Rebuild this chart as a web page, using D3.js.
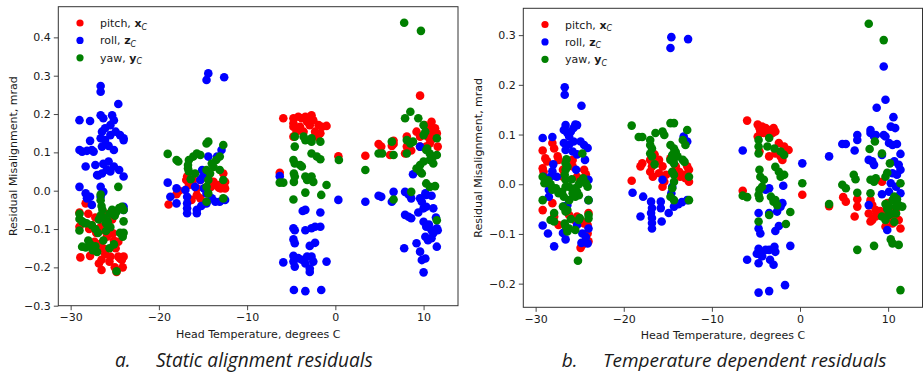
<!DOCTYPE html>
<html>
<head>
<meta charset="utf-8">
<script src="https://cdn.jsdelivr.net/npm/d3@7"></script>
<style>
  body { margin: 0; background: #fff; }
  text { font-family: "DejaVu Sans", sans-serif; fill: #1a1a1a; }
</style>
</head>
<body>
<svg id="chart" width="923" height="376"></svg>
<script>
// Tick values and labels
const xTicks = [-30, -20, -10, 0, 10];
const staticYTicks = [-0.3, -0.2, -0.1, 0.0, 0.1, 0.2, 0.3, 0.4];
const tempYTicks = [-0.2, -0.1, 0.0, 0.1, 0.2, 0.3];
const seriesNames = ["pitch, ", "roll, ", "yaw, "];
const seriesSymbols = ["x", "z", "y"];
const captions = [["a.", "Static alignment residuals"], ["b.", "Temperature dependent residuals"]];

// [head temperature (deg C), residual (mrad)]
const staticPitch = [
  [-29.0,-0.057],[-29.0,-0.094],[-28.9,-0.174],[-28.7,-0.085],[-28.3,-0.033],[-28.0,-0.06],[-27.8,-0.17],[-27.6,-0.09],
  [-27.3,-0.133],[-27.1,-0.11],[-26.8,-0.14],[-26.6,-0.095],[-26.5,-0.18],[-26.5,-0.207],[-26.3,-0.15],[-26.3,-0.103],
  [-26.1,-0.165],[-25.9,-0.12],[-25.6,-0.185],[-25.5,-0.172],[-25.2,-0.111],[-25.1,-0.13],[-25.0,-0.2],[-24.9,-0.15],
  [-24.8,-0.212],[-24.6,-0.172],[-24.4,-0.177],[-24.2,-0.181],[-24.1,-0.2],[-24.0,-0.172],[-26.0,-0.06],[-25.3,-0.075],
  [-27.2,-0.07],[-24.6,-0.133],[-27.9,-0.1],[-26.8,-0.19],
  [-18.9,-0.036],[-18.0,-0.009],[-17.7,0.0],[-16.9,0.028],[-16.8,0.037],[-16.6,0.015],[-16.1,0.028],[-15.7,0.006],
  [-15.7,-0.011],[-16.3,-0.024],[-15.3,-0.02],[-15.3,0.028],[-14.9,-0.033],[-14.4,0.032],[-13.8,0.023],[-13.8,0.015],
  [-13.2,0.015],[-13.2,0.008],[-12.7,0.045],[-12.5,0.023],[-12.5,0.006],[-13.0,0.006],[-14.1,0.01],
  [-5.9,0.189],[-6.3,0.047],[-4.75,0.189],[-4.75,0.176],[-4.75,0.167],[-4.2,0.193],[-3.8,0.189],[-3.4,0.193],
  [-3.2,0.18],[-2.7,0.197],[-2.5,0.184],[-2.9,0.171],[-1.9,0.171],[-1.5,0.167],[-1.0,0.169],[-2.3,0.154],
  [-1.7,0.150],[-4.0,0.167],[-4.75,0.141],[-3.6,0.154],[-4.4,0.154],[-2.0,0.14],[0.34,0.09],
  [3.4,0.091],[4.9,0.122],[5.2,0.115],[6.2,0.093],[6.6,0.122],[6.4,0.117],[6.6,0.13],[8.1,0.141],[8.1,0.115],
  [7.9,0.097],[8.6,0.105],[9.6,0.248],[9.6,0.115],[10.3,0.115],[10.9,0.18],[10.7,0.167],[11.3,0.163],[11.1,0.154],
  [11.5,0.150],[11.6,0.115],[10.7,0.123],[10.1,0.171],[9.6,0.141],[9.2,0.154],[10.5,0.14],[11.0,0.135]
];
const staticRoll = [
  [-26.6,0.273],[-26.6,0.258],[-24.6,0.226],[-29.0,0.184],[-27.8,0.182],[-26.6,0.197],[-26.3,0.189],[-25.3,0.197],
  [-25.1,0.184],[-25.5,0.171],[-26.1,0.163],[-26.45,0.154],[-24.9,0.154],[-24.4,0.145],[-24.0,0.137],[-26.6,0.137],
  [-26.1,0.132],[-25.5,0.145],[-27.8,0.130],[-29.0,0.106],[-28.7,0.102],[-28.15,0.104],[-27.6,0.106],[-27.4,0.102],
  [-26.45,0.115],[-25.7,0.117],[-25.1,0.106],[-24.0,0.132],[-28.3,0.063],[-27.2,0.067],[-25.7,0.076],[-25.1,0.063],
  [-24.5,0.054],[-27.0,0.041],[-26.45,0.045],[-25.5,0.050],[-24.0,0.037],[-29.0,0.010],[-28.3,-0.007],[-27.8,-0.016],
  [-28.15,-0.020],[-27.6,-0.037],[-26.6,0.010],[-26.3,-0.003],[-26.6,-0.016],[-24.0,-0.042],[-24.0,-0.050],
  [-26.9,0.04],[-26.3,0.07],[-25.9,0.055],
  [-19.0,0.021],[-18.0,0.006],[-18.7,-0.016],[-18.0,-0.033],[-17.0,0.002],[-16.8,-0.016],[-16.8,-0.033],[-16.8,-0.046],
  [-16.8,-0.059],[-15.7,-0.050],[-15.7,-0.059],[-15.9,0.010],[-15.3,0.028],[-14.9,0.006],[-14.6,-0.007],[-14.6,-0.033],
  [-13.6,-0.029],[-13.1,-0.029],[-12.5,-0.024],[-12.9,0.106],[-13.4,0.089],[-14.4,0.089],[-15.0,0.037],[-15.1,0.054],
  [-14.4,0.306],[-14.6,0.289],[-12.6,0.296],[-14.0,-0.02],[-15.2,-0.04],
  [-6.3,0.038],[-3.7,-0.053],[-3.4,-0.050],[-1.7,-0.057],[0.34,-0.024],[-4.75,-0.098],[-4.6,-0.103],[-3.4,-0.103],
  [-2.7,-0.098],[-2.3,-0.094],[-1.7,-0.094],[-4.75,-0.127],[-4.6,-0.137],[-2.9,-0.144],[-2.3,-0.136],[-5.9,-0.187],
  [-4.75,-0.170],[-4.75,-0.185],[-4.6,-0.198],[-4.2,-0.176],[-3.8,-0.180],[-3.4,-0.190],[-3.2,-0.172],[-2.7,-0.172],
  [-2.5,-0.185],[-2.9,-0.203],[-2.9,-0.212],[-1.0,-0.185],[-4.7,-0.259],[-3.4,-0.262],[-1.6,-0.259],
  [3.4,-0.029],[4.9,-0.013],[5.2,-0.016],[6.6,-0.003],[6.4,-0.029],[7.9,-0.003],[8.3,-0.010],[8.6,-0.020],
  [9.6,-0.020],[9.8,-0.029],[10.2,-0.007],[10.3,-0.011],[10.9,-0.013],[8.8,0.043],[9.6,0.115],[7.9,-0.063],
  [8.3,-0.068],[8.6,-0.072],[9.4,-0.057],[10.0,-0.046],[10.3,-0.042],[11.1,-0.046],[10.0,-0.081],[10.3,-0.094],
  [10.9,-0.103],[11.5,-0.098],[11.1,-0.111],[11.6,-0.103],[10.2,-0.120],[10.5,-0.129],[10.9,-0.124],[9.2,-0.137],
  [11.5,-0.146],[7.8,-0.150],[9.6,-0.159],[9.8,-0.181],[10.2,-0.177],[10.0,-0.213],[11.4,-0.07],[10.6,-0.088]
];
const staticYaw = [
  [-29.0,-0.06],[-29.0,-0.074],[-29.0,-0.104],[-28.7,-0.08],[-28.4,-0.085],[-28.2,-0.085],[-28.7,-0.146],[-28.3,-0.148],
  [-28.0,-0.13],[-27.8,-0.14],[-27.5,-0.155],[-27.2,-0.145],[-27.0,-0.16],[-26.6,-0.01],[-26.6,-0.025],[-26.5,-0.04],
  [-26.4,-0.05],[-26.6,-0.065],[-26.8,-0.075],[-26.3,-0.07],[-26.0,-0.085],[-25.8,-0.08],[-25.6,-0.06],[-25.3,-0.05],
  [-25.0,-0.065],[-24.8,-0.055],[-24.5,-0.045],[-24.2,-0.042],[-24.0,-0.05],[-24.0,-0.08],[-24.0,-0.11],[-24.1,-0.12],
  [-24.4,-0.11],[-25.5,-0.095],[-26.0,-0.105],[-26.3,-0.13],[-26.9,-0.11],[-27.2,-0.1],[-27.6,-0.09],[-24.6,0.01],
  [-25.1,-0.14],[-24.8,-0.21],[-25.6,-0.15],
  [-19.0,0.096],[-18.0,0.080],[-17.8,0.076],[-16.6,0.080],[-16.7,0.067],[-16.7,0.058],[-16.6,0.050],[-16.1,0.089],
  [-15.7,0.097],[-15.3,0.093],[-14.6,0.123],[-14.4,0.128],[-12.7,0.119],[-13.1,0.089],[-13.5,0.080],[-14.0,0.071],
  [-13.8,0.062],[-14.6,0.054],[-14.2,0.045],[-14.4,0.028],[-14.6,0.010],[-14.4,-0.007],[-14.6,-0.029],[-12.7,0.028],
  [-12.7,-0.020],[-13.1,0.054],[-15.9,0.045],[-16.4,0.03],
  [-6.3,0.021],[-5.9,0.021],[-4.6,0.141],[-4.6,0.115],[-3.6,0.141],[-3.4,0.132],[-2.7,0.137],[-2.7,0.128],
  [-1.7,0.128],[-4.75,0.080],[-4.6,0.071],[-4.0,0.067],[-3.8,0.063],[-4.7,0.045],[-4.6,0.037],[-4.7,0.023],
  [-3.4,0.037],[-3.2,0.028],[-2.7,0.037],[-2.5,0.023],[-2.7,0.097],[-2.1,0.089],[-1.7,0.082],[-3.4,-0.005],
  [-4.75,-0.023],[-1.6,-0.011],[-1.0,0.015],[0.4,0.080],
  [3.4,0.054],[4.9,0.097],[5.3,0.097],[6.4,0.128],[6.6,0.093],[6.6,-0.023],[7.9,0.189],[8.5,0.206],[9.4,0.189],
  [10.0,0.171],[10.2,0.154],[8.1,0.132],[8.5,0.123],[8.8,0.128],[8.1,0.097],[8.6,-0.003],[9.2,0.058],[9.6,0.067],
  [10.0,0.076],[9.6,0.050],[9.8,0.045],[10.3,0.106],[10.7,0.097],[11.1,0.089],[10.7,0.080],[11.1,0.071],[11.5,0.093],
  [11.5,0.137],[10.3,0.019],[10.7,0.010],[11.3,0.012],[11.5,-0.077],[7.8,0.438],[9.7,0.417],[10.0,0.145],[10.4,0.11]
];

const tempPitch = [
  [-29.2,0.068],[-28.1,0.083],[-27.9,0.072],[-28.9,0.052],[-28.7,0.046],[-27.5,0.056],[-27.4,0.049],[-29.2,0.032],
  [-29.1,0.025],[-29.2,-0.052],[-28.1,-0.038],[-26.9,0.029],[-26.9,0.015],[-25.8,0.049],[-25.8,0.036],[-25.3,0.015],
  [-24.5,0.029],[-25.3,-0.065],[-24.9,-0.072],[-24.5,-0.079],[-24.1,-0.082],[-24.1,-0.099],[-24.0,-0.115],[-24.7,-0.122],
  [-24.9,-0.128],[-26.2,-0.062],[-25.6,-0.072],[-27.9,-0.065],[-28.1,-0.072],[-27.4,-0.082],[-24.0,-0.058],[-24.3,0.02],
  [-26.4,-0.09],
  [-19.1,0.007],[-18.1,0.036],[-17.9,0.042],[-17.0,0.049],[-16.8,0.036],[-17.0,0.025],[-16.7,0.015],[-16.0,0.049],
  [-15.6,0.036],[-16.0,0.022],[-15.2,0.019],[-15.4,0.005],[-15.6,-0.005],[-14.7,0.052],[-14.1,0.036],[-13.7,0.025],
  [-13.1,0.019],[-12.8,0.036],[-12.6,0.029],[-12.6,0.005],[-13.0,0.012],[-13.6,0.015],[-16.5,0.06],[-14.4,0.045],
  [-6.0,0.128],[-6.5,-0.013],[-4.8,0.12],[-4.6,0.113],[-4.3,0.116],[-3.9,0.113],[-3.5,0.109],[-3.0,0.113],
  [-2.8,0.106],[-4.5,0.106],[-4.1,0.103],[-3.1,0.103],[-4.8,0.096],[-3.5,0.096],[-2.4,0.083],[-1.8,0.076],
  [-1.3,0.069],[-4.6,0.066],[-3.5,0.056],[-2.8,0.062],[-2.2,0.056],[-2.0,0.049],[0.26,-0.021],
  [3.3,-0.044],[4.9,-0.026],[5.2,-0.035],[6.2,-0.065],[6.5,-0.030],[6.5,-0.045],[8.0,-0.032],[8.2,-0.042],
  [7.8,-0.059],[8.2,-0.072],[8.6,-0.065],[8.0,-0.075],[9.3,0.005],[9.1,-0.054],[9.5,-0.063],[10.1,-0.069],
  [10.7,-0.065],[9.7,-0.085],[10.5,-0.079],[11.2,-0.072],[11.4,-0.089],[8.6,-0.052],[9.9,-0.038],[10.9,-0.05]
];
const tempRoll = [
  [-26.7,0.195],[-26.7,0.18],[-24.8,0.158],[-25.5,0.12],[-25.3,0.119],[-25.7,0.113],[-26.6,0.119],[-26.8,0.109],
  [-26.4,0.103],[-26.0,0.106],[-26.2,0.096],[-29.2,0.093],[-28.1,0.095],[-26.8,0.083],[-26.2,0.080],[-25.7,0.086],
  [-24.9,0.086],[-24.5,0.079],[-24.1,0.073],[-26.6,0.069],[-25.8,0.066],[-25.3,0.06],[-28.0,0.040],[-28.3,0.015],
  [-28.1,0.026],[-24.4,0.049],[-25.4,0.029],[-24.0,0.009],[-28.5,-0.011],[-28.5,-0.025],[-26.8,-0.045],[-26.4,-0.042],
  [-24.0,-0.032],[-29.2,-0.083],[-28.6,-0.099],[-27.9,-0.125],[-26.6,-0.111],[-26.9,-0.098],[-24.7,-0.099],[-24.3,-0.106],
  [-24.1,-0.119],[-24.8,-0.118],[-24.0,-0.089],[-25.3,-0.082],[-29.1,0.015],[-27.6,0.015],[-25.7,-0.02],
  [-19.0,-0.017],[-17.8,-0.025],[-18.1,-0.065],[-16.9,-0.035],[-16.8,-0.048],[-16.9,-0.058],[-16.8,-0.068],[-16.8,-0.078],
  [-16.8,-0.089],[-15.8,-0.035],[-15.8,-0.048],[-15.7,-0.075],[-14.9,-0.058],[-14.3,-0.045],[-13.8,-0.040],[-13.4,-0.036],
  [-12.8,-0.032],[-14.5,-0.005],[-14.6,-0.018],[-15.6,0.009],[-13.2,0.096],[-12.8,0.086],[-14.6,0.296],[-14.7,0.274],
  [-12.7,0.292],
  [-6.5,0.068],[0.26,0.042],[-1.9,-0.003],[-3.9,-0.011],[-3.5,-0.008],[-4.7,-0.058],[-3.5,-0.058],[-2.0,-0.038],
  [-2.2,-0.045],[-2.6,-0.055],[-4.7,-0.089],[-4.5,-0.099],[-2.8,-0.094],[-2.4,-0.084],[-1.1,-0.124],[-4.7,-0.130],
  [-4.9,-0.140],[-4.5,-0.142],[-3.9,-0.132],[-3.5,-0.132],[-2.9,-0.126],[-2.8,-0.136],[-4.7,-0.159],[-3.4,-0.152],
  [-3.0,-0.162],[-6.0,-0.152],[-4.7,-0.218],[-3.5,-0.215],[-1.7,-0.203],[-4.3,-0.145],
  [3.3,0.056],[4.8,0.081],[5.2,0.081],[6.2,0.068],[6.5,0.099],[6.5,0.089],[8.0,0.109],[8.0,0.103],[8.4,0.096],
  [8.6,0.099],[7.8,0.049],[8.2,0.046],[8.4,0.039],[9.5,0.237],[9.7,0.170],[8.7,0.154],[10.6,0.135],[10.3,0.116],
  [10.8,0.113],[9.7,0.096],[9.5,0.099],[10.1,0.083],[10.5,0.079],[11.0,0.081],[9.3,0.059],[11.4,0.061],[10.7,0.046],
  [11.2,0.039],[10.5,0.022],[11.0,0.019],[11.4,0.029],[10.3,0.002],[10.9,-0.005],[11.4,-0.018],[9.3,-0.020],
  [7.8,-0.042],[9.9,-0.092],[10.1,-0.015]
];
const tempYaw = [
  [-29.2,0.015],[-29.0,0.002],[-28.6,0.008],[-28.3,0.0],[-29.2,-0.032],[-28.1,-0.011],[-27.7,-0.008],[-27.9,-0.058],
  [-28.3,-0.072],[-27.9,-0.075],[-26.6,0.042],[-26.4,0.035],[-26.6,0.029],[-26.7,0.019],[-26.6,0.009],[-26.6,-0.005],
  [-27.0,-0.015],[-27.4,-0.018],[-26.2,-0.005],[-25.8,-0.011],[-25.5,-0.008],[-25.1,0.0],[-24.9,0.006],[-24.3,0.002],
  [-24.1,-0.005],[-24.6,0.012],[-26.8,-0.025],[-26.2,-0.032],[-25.8,-0.018],[-25.5,-0.025],[-25.3,-0.015],[-25.1,-0.022],
  [-26.9,-0.045],[-26.6,-0.055],[-26.4,-0.052],[-26.7,-0.079],[-26.6,-0.085],[-26.2,-0.089],[-26.4,-0.095],[-24.0,-0.032],
  [-24.0,-0.062],[-24.0,-0.069],[-25.1,-0.072],[-25.0,-0.068],[-25.5,-0.092],[-24.7,0.062],[-25.2,-0.154],[-26.5,0.05],
  [-25.9,0.01],[-26.0,-0.07],
  [-19.1,0.118],[-18.3,0.095],[-17.9,0.095],[-17.0,0.089],[-17.0,0.079],[-16.8,0.072],[-17.0,0.062],[-16.8,0.056],
  [-16.4,0.103],[-15.6,0.106],[-15.4,0.099],[-14.7,0.123],[-14.3,0.123],[-12.8,0.109],[-14.7,0.079],[-14.3,0.072],
  [-14.1,0.065],[-14.5,0.059],[-13.9,0.056],[-14.7,0.049],[-14.3,0.042],[-13.3,0.049],[-13.1,0.045],[-14.5,0.025],
  [-14.3,0.019],[-14.3,0.005],[-14.5,-0.008],[-14.7,-0.025],[-14.3,-0.032],[-12.6,0.015],[-12.6,-0.032],[-13.3,0.089],
  [-13.0,0.079],[-16.5,0.04],
  [-4.7,0.089],[-4.7,0.076],[-3.5,0.093],[-3.7,0.076],[-2.9,0.072],[-2.2,0.066],[-1.8,0.059],[-4.7,0.062],
  [-4.6,0.029],[-4.5,0.015],[-4.1,0.009],[-4.3,-0.005],[-2.8,0.035],[-2.4,0.025],[-2.2,0.015],[-1.8,0.019],
  [-4.6,-0.011],[-4.7,-0.021],[-4.6,-0.028],[-3.3,-0.025],[-3.0,-0.035],[-2.8,-0.032],[-2.6,-0.042],[-3.5,-0.062],
  [-4.7,-0.075],[-1.6,-0.080],[-1.1,-0.056],[-6.5,-0.023],[-6.0,-0.026],[0.26,0.002],
  [3.3,-0.040],[4.8,-0.001],[5.2,-0.008],[6.1,0.019],[6.3,0.010],[6.5,-0.017],[6.5,-0.132],[7.8,0.323],[9.5,0.290],
  [8.5,0.086],[7.9,0.071],[8.0,0.009],[8.4,0.005],[8.6,0.012],[8.0,-0.018],[9.3,0.062],[10.2,0.042],[9.9,0.023],
  [9.7,0.015],[11.4,0.002],[8.4,-0.124],[10.3,-0.111],[10.5,-0.119],[11.2,-0.122],[11.4,-0.213],[9.7,-0.040],
  [10.1,-0.045],[10.5,-0.032],[10.7,-0.025],[10.9,-0.045],[11.2,-0.042],[11.6,-0.045],[9.3,-0.065],[9.7,-0.072],
  [10.1,-0.062],[10.5,-0.059],[10.9,-0.059],[10.7,-0.076],[9.9,-0.05],[11.0,-0.03]
];

const colors = ["#ff0000", "#0000ff", "#008000"];

const panels = [
  { left: 58.3, right: 458, top: 6.7, bottom: 305.7, yDomain: [-0.3, 0.48], yTicks: staticYTicks,
    series: [staticPitch, staticRoll, staticYaw], caption: captions[0],
    capX: [115, 156], capW: 217, ylabX: 17, legX: 80, legY: 23 },
  { left: 523.3, right: 922.5, top: 8.3, bottom: 307.3, yDomain: [-0.2476, 0.354], yTicks: tempYTicks,
    series: [tempPitch, tempRoll, tempYaw], caption: captions[1],
    capX: [561.7, 603], capW: 283.7, ylabX: 482, legX: 545, legY: 24.5 }
];

const svg = d3.select("#chart");
const fontSize = 11;

panels.forEach(p => {
  const x = d3.scaleLinear().domain([-31.4, 13.9]).range([p.left, p.right]);
  const y = d3.scaleLinear().domain(p.yDomain).range([p.bottom, p.top]);
  const g = svg.append("g");

  // points, pitch first then roll then yaw
  p.series.forEach((pts, i) => {
    g.append("g").selectAll("circle")
      .data(pts)
      .join("circle")
      .attr("cx", d => x(d[0]))
      .attr("cy", d => y(d[1]))
      .attr("r", 4.3)
      .attr("fill", colors[i]);
  });

  // axes
  const xAxis = g.append("g")
    .attr("transform", `translate(0,${p.bottom})`)
    .call(d3.axisBottom(x).tickValues(xTicks).tickFormat(d3.format("d")).tickSize(4.5).tickPadding(3));
  const yAxis = g.append("g")
    .attr("transform", `translate(${p.left},0)`)
    .call(d3.axisLeft(y).tickValues(p.yTicks).tickFormat(d3.format(".1f")).tickSize(4.5).tickPadding(3));
  [xAxis, yAxis].forEach(a => {
    a.select(".domain").remove();
    a.selectAll(".tick line").attr("stroke", "#333").attr("stroke-width", 0.9);
    a.selectAll(".tick text").attr("font-family", "DejaVu Sans").attr("font-size", fontSize).attr("fill", "#1a1a1a");
  });

  // frame
  g.append("rect")
    .attr("x", p.left).attr("y", p.top)
    .attr("width", p.right - p.left).attr("height", p.bottom - p.top)
    .attr("fill", "none").attr("stroke", "#333").attr("stroke-width", 1);

  // axis titles
  g.append("text")
    .attr("x", (p.left + p.right) / 2).attr("y", p.bottom + 32)
    .attr("text-anchor", "middle").attr("font-size", fontSize)
    .text("Head Temperature, degrees C");
  g.append("text")
    .attr("transform", `translate(${p.ylabX},${(p.top + p.bottom) / 2}) rotate(-90)`)
    .attr("text-anchor", "middle").attr("font-size", fontSize)
    .text("Residual Misalignment, mrad");

  // legend
  seriesNames.forEach((name, i) => {
    const ly = p.legY + i * 17.4;
    g.append("circle").attr("cx", p.legX).attr("cy", ly).attr("r", 3.6).attr("fill", colors[i]);
    const t = g.append("text").attr("x", p.legX + 20).attr("y", ly + 4).attr("font-size", fontSize);
    t.append("tspan").text(name);
    t.append("tspan").attr("font-weight", "bold").text(seriesSymbols[i]);
    t.append("tspan").attr("font-style", "italic").attr("font-size", 8).attr("dy", 2.5).text("C");
  });

  // caption
  const c1 = svg.append("text")
    .attr("x", p.capX[0]).attr("y", 367)
    .attr("font-family", "Open Sans").attr("font-style", "italic").attr("font-size", 20)
    .text(p.caption[0]);
  const c2 = svg.append("text")
    .attr("x", p.capX[1]).attr("y", 367)
    .attr("font-family", "Open Sans").attr("font-style", "italic").attr("font-size", 20)
    .text(p.caption[1]);
  c1.style("font-family", "'Open Sans', sans-serif");
  c2.style("font-family", "'Open Sans', sans-serif");
  const w = c2.node().getComputedTextLength();
  c2.attr("font-size", 20 * p.capW / w);
  c1.attr("font-size", 20 * p.capW / w);
});
</script>
</body>
</html>
